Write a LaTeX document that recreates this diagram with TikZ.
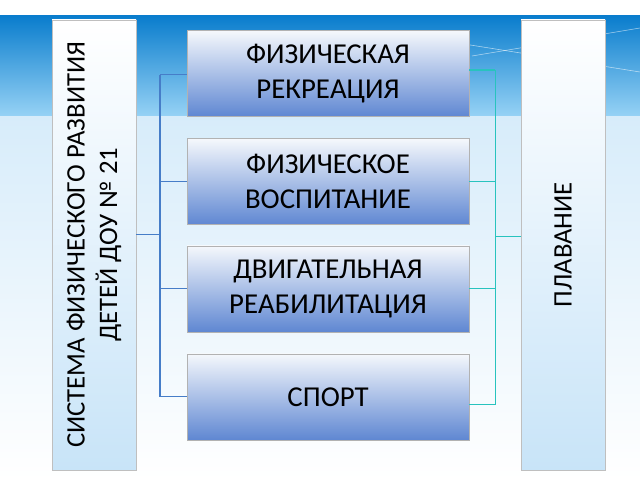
\documentclass[tikz,border=0pt]{standalone}
\usepackage{fontspec}
\setmainfont{Carlito}
\usetikzlibrary{positioning}
\definecolor{bandtop}{RGB}{10,125,205}
\definecolor{bandbot}{RGB}{150,210,245}
\definecolor{lowtop}{RGB}{215,236,250}
\definecolor{boxtop}{RGB}{245,248,252}
\definecolor{boxbot}{RGB}{95,135,210}
\definecolor{sidebot}{RGB}{200,228,248}
\definecolor{leftline}{RGB}{70,125,200}
\definecolor{rightline}{RGB}{40,195,190}
\tikzset{
  item/.style={draw=gray!60,top color=boxtop,bottom color=boxbot,minimum width=7.05cm,minimum height=2.15cm,align=center,font=\fontsize{20.5}{25}\selectfont},
  side/.style={draw=gray!50,top color=white,bottom color=sidebot,minimum width=11.25cm,minimum height=2.1cm,align=center,rotate=90,font=\fontsize{19}{23}\selectfont},
  lline/.style={leftline,thick},
  rline/.style={rightline,thick}
}
\begin{document}
\begin{tikzpicture}
  \useasboundingbox (0,0) rectangle (16,12);
  % background
  \fill[top color=lowtop,bottom color=white] (0,0) rectangle (16,9.1);
  \fill[white] (0,11.6) rectangle (16,12);
  \fill[top color=bandtop,bottom color=bandbot] (0,9.1) rectangle (16,11.6);
  \draw[white,opacity=0.6] (11.8,10.6) -- (16,11.3);
  \draw[white,opacity=0.6] (11.6,10.9) -- (16,10.2);
  % side boxes
  \node[side] (system) at (2.35,5.88) {СИСТЕМА ФИЗИЧЕСКОГО РАЗВИТИЯ\\ДЕТЕЙ ДОУ № 21};
  \node[side] (swim) at (14.08,5.88) {ПЛАВАНИЕ};
  % middle boxes
  \node[item] (recr) at (8.2,10.16) {ФИЗИЧЕСКАЯ\\РЕКРЕАЦИЯ};
  \node[item] (educ) at (8.2,7.46) {ФИЗИЧЕСКОЕ\\ВОСПИТАНИЕ};
  \node[item] (rehab) at (8.2,4.78) {ДВИГАТЕЛЬНАЯ\\РЕАБИЛИТАЦИЯ};
  \node[item] (sport) at (8.2,2.08) {СПОРТ};
  % left connectors
  \coordinate (lbus) at (4,6.13);
  \draw[lline] (system.south |- lbus) -- (lbus);
  \draw[lline] (4,10.13) -- (4,2.08);
  \foreach \n/\y in {recr/10.13,educ/7.46,rehab/4.78,sport/2.08}
    \draw[lline] (4,\y) -- (\n.west |- 0,\y);
  % right connectors
  \coordinate (rbus) at (12.38,6.08);
  \draw[rline] (12.38,10.25) -- (12.38,1.88);
  \draw[rline] (rbus) -- (swim.north |- rbus);
  \foreach \n/\y in {recr/10.25,educ/7.46,rehab/4.78,sport/1.88}
    \draw[rline] (\n.east |- 0,\y) -- (12.38,\y);
\end{tikzpicture}
\end{document}
